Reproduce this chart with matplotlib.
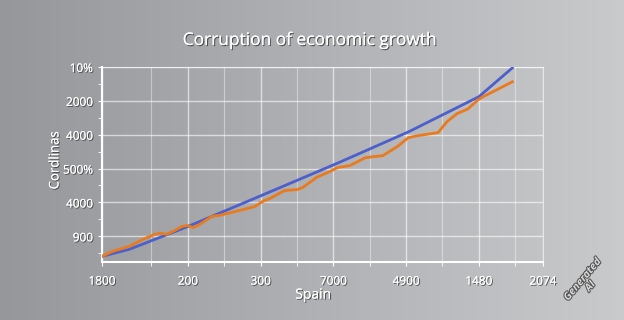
import numpy as np
import matplotlib
matplotlib.use("Agg")
import matplotlib.pyplot as plt
import matplotlib.patheffects as pe

plt.rcParams["font.family"] = ["Open Sans", "DejaVu Sans"]

# values (axis units, ticks are decorative)
blue_x = [-0.18, 0.2, 1.0, 2.05, 3.08, 4.04, 5.0, 5.46]
blue_y = [-0.59, -0.38, 0.29, 1.24, 2.18, 3.09, 4.12, 4.97]

orange_x = [-0.18, -0.03, 0.20, 0.38, 0.55, 0.62, 0.71, 0.80, 0.92, 0.99, 1.07, 1.14,
            1.33, 1.44, 1.61, 1.76, 1.92, 2.03, 2.13, 2.33, 2.50, 2.58, 2.77, 2.95,
            3.06, 3.23, 3.44, 3.55, 3.68, 3.88, 4.03, 4.16, 4.44, 4.56, 4.70, 4.85,
            4.99, 5.06, 5.46]
orange_y = [-0.59, -0.44, -0.29, -0.09, 0.06, 0.09, 0.06, 0.15, 0.29, 0.32, 0.26, 0.32,
            0.59, 0.62, 0.71, 0.79, 0.88, 1.03, 1.12, 1.35, 1.38, 1.44, 1.74, 1.91,
            2.03, 2.09, 2.32, 2.35, 2.38, 2.65, 2.91, 2.97, 3.06, 3.38, 3.62, 3.76,
            4.03, 4.12, 4.56]

x_labels = ["1800", "200", "300", "7000", "4900", "1480", "2074"]
y_labels = ["900", "4000", "500%", "4000", "2000", "10%"]

title = "Corruption of economic growth"
x_title = "Spain"
y_title = "Cordlinas"

x_ticks = [-0.18, 1, 2, 3, 4, 5, 5.88]
y_ticks = [0, 1, 2, 3, 4, 5]

shadow = [pe.withSimplePatchShadow(offset=(0.8, -0.8), shadow_rgbFace="#3a3a3a", alpha=0.8), pe.Normal()]

fig = plt.figure(figsize=(6.24, 3.2), dpi=100)

# gradient background
bg = fig.add_axes([0, 0, 1, 1], zorder=0)
grad = np.linspace(0, 1, 256)[None, :] * np.ones((10, 1))
bg.imshow(grad, aspect="auto", extent=[0, 1, 0, 1],
          cmap=matplotlib.colors.LinearSegmentedColormap.from_list("g", ["#96979b", "#c9cacc"]))
bg.axis("off")

ax = fig.add_axes([0.1635, 0.181, 0.7065, 0.61], zorder=1)
ax.set_facecolor("none")

ax.plot(blue_x, blue_y, color="#4c5fcb", lw=2.0, zorder=3)
ax.plot(orange_x, orange_y, color="#ea7a1e", lw=2.0, zorder=4)

ax.set_xlim(-0.18, 5.88)
ax.set_ylim(-0.76, 5.0)
ax.set_xticks(x_ticks)
ax.set_xticklabels(x_labels)
ax.set_yticks(y_ticks)
ax.set_yticklabels(y_labels)
ax.set_xticks(np.arange(0.5, 5.6, 1.0), minor=True)
ax.set_yticks(np.arange(-0.5, 5.0, 1.0), minor=True)

ax.grid(True, which="major", color="white", alpha=0.6, lw=1.0)
ax.grid(True, which="minor", axis="x", color="white", alpha=0.4, lw=0.8)

for s in ["left", "bottom"]:
    ax.spines[s].set_color("white")
    ax.spines[s].set_linewidth(1.5)
for s in ["top", "right"]:
    ax.spines[s].set_color("white")
    ax.spines[s].set_alpha(0.6)

ax.tick_params(which="both", colors="white", labelsize=8.5, length=3)
ax.tick_params(axis="x", pad=6)
for lab in ax.get_xticklabels() + ax.get_yticklabels():
    lab.set_path_effects(shadow)

fig.text(0.497, 0.872, title, ha="center", va="center", fontsize=12.5, color="white",
         path_effects=shadow)
fig.text(0.502, 0.078, x_title, ha="center", va="center", fontsize=10, color="white",
         path_effects=shadow)
fig.text(0.088, 0.5, y_title, ha="center", va="center", fontsize=9.5, color="white",
         rotation=90, path_effects=shadow)

# watermark
fig.text(0.94, 0.115, "Generated\nAI", ha="center", va="center", fontsize=7.5, color="#d9d9d9",
         rotation=50, fontstyle="italic", fontweight="bold", linespacing=0.9,
         path_effects=[pe.withStroke(linewidth=1.5, foreground="#555555")])

fig.savefig("out.png", dpi=100)
